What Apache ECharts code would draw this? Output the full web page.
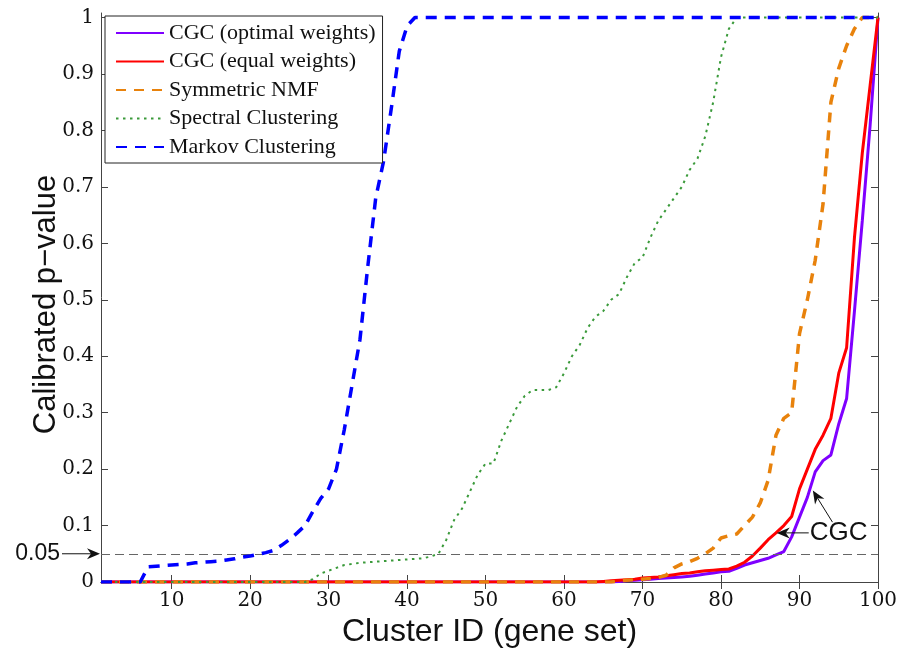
<!DOCTYPE html>
<html><head><meta charset="utf-8">
<script src="https://cdn.jsdelivr.net/npm/echarts@6/dist/echarts.min.js"></script>
<style>html,body{margin:0;padding:0;background:#fff}#c{width:905px;height:656px}</style>
</head><body><div id="c"></div>
<script>
const clusterIds = [1,2,3,4,5,6,7,8,9,10,11,12,13,14,15,16,17,18,19,20,21,22,23,24,25,26,27,28,29,30,31,32,33,34,35,36,37,38,39,40,41,42,43,44,45,46,47,48,49,50,51,52,53,54,55,56,57,58,59,60,61,62,63,64,65,66,67,68,69,70,71,72,73,74,75,76,77,78,79,80,81,82,83,84,85,86,87,88,89,90,91,92,93,94,95,96,97,98,99,100];

const cgcOptimal = [0,0,0,0,0,0,0,0,0,0, 0,0,0,0,0,0,0,0,0,0, 0,0,0,0,0,0,0,0,0,0, 0,0,0,0,0,0,0,0,0,0, 0,0,0,0,0,0,0,0,0,0, 0,0,0,0,0,0,0,0,0,0, 0,0,0,0,0,0,0.001,0.002,0.003,0.004,
  0.005,0.006,0.007,0.008,0.009,0.010,0.012,0.014,0.016,0.018,
  0.019,0.024,0.030,0.034,0.038,0.042,0.048,0.054,0.080,0.115,
  0.150,0.195,0.215,0.225,0.280,0.325,0.480,0.640,0.810,1.000];

const cgcEqual = [0,0,0,0,0,0,0,0,0,0, 0,0,0,0,0,0,0,0,0,0, 0,0,0,0,0,0,0,0,0,0, 0,0,0,0,0,0,0,0,0,0, 0,0,0,0,0,0,0,0,0,0, 0,0,0,0,0,0,0,0,0,0, 0,0,0,0,0.001,0.002,0.003,0.004,0.005,0.007,
  0.008,0.009,0.011,0.013,0.015,0.016,0.018,0.020,0.021,0.022,
  0.023,0.028,0.035,0.046,0.060,0.075,0.087,0.100,0.116,0.165,
  0.200,0.235,0.260,0.290,0.370,0.415,0.610,0.760,0.880,1.000];

const symmetricNMF = [0,0,0,0,0,0,0,0,0,0, 0,0,0,0,0,0,0,0,0,0, 0,0,0,0,0,0,0,0,0,0, 0,0,0,0,0,0,0,0,0,0, 0,0,0,0,0,0,0,0,0,0, 0,0,0,0,0,0,0,0,0,0, 0,0,0,0,0,0,0.002,0.003,0.004,0.005,
  0.006,0.008,0.012,0.025,0.032,0.036,0.042,0.050,0.060,0.078,
  0.082,0.085,0.100,0.115,0.140,0.180,0.260,0.290,0.300,0.440,
  0.500,0.570,0.670,0.850,0.910,0.950,0.980,1,1,1];

const spectral = [0,0,0,0,0,0,0,0,0,0, 0,0,0,0,0,0,0,0,0,0, 0,0,0,0,0,0,0,0.005,0.015,0.020,
  0.025,0.030,0.032,0.034,0.035,0.036,0.037,0.038,0.039,0.040,
  0.041,0.042,0.045,0.050,0.075,0.110,0.130,0.160,0.190,0.210,
  0.210,0.250,0.280,0.310,0.330,0.340,0.340,0.340,0.345,0.370,
  0.400,0.420,0.450,0.470,0.480,0.500,0.510,0.540,0.565,0.575,
  0.610,0.640,0.660,0.680,0.700,0.730,0.750,0.790,0.850,0.930,
  0.980,1,1,1,1,1,1,1,1,1, 1,1,1,1,1,1,1,1,1,1];

const markov = [0,0,0,0,0,0,0.027,0.028,0.029,0.030,
  0.031,0.032,0.034,0.035,0.036,0.037,0.039,0.041,0.044,0.046,
  0.049,0.052,0.056,0.065,0.075,0.087,0.100,0.125,0.148,0.165,
  0.200,0.270,0.350,0.430,0.560,0.680,0.745,0.840,0.940,0.985,
  1,1,1,1,1,1,1,1,1,1, 1,1,1,1,1,1,1,1,1,1, 1,1,1,1,1,1,1,1,1,1,
  1,1,1,1,1,1,1,1,1,1, 1,1,1,1,1,1,1,1,1,1, 1,1,1,1,1,1,1,1,1,1];

const seriesNames = ['CGC (optimal weights)','CGC (equal weights)','Symmetric NMF','Spectral Clustering','Markov Clustering'];
const xTicks = [10,20,30,40,50,60,70,80,90,100];
const yTicks = [0,0.1,0.2,0.3,0.4,0.5,0.6,0.7,0.8,0.9,1];
const thresholdValue = 0.05;

const seriesData = [cgcOptimal, cgcEqual, symmetricNMF, spectral, markov];
const styles = [
  {color:'#7f00ff', width:3, type:'solid'},
  {color:'#ff0000', width:3, type:'solid'},
  {color:'#e8820c', width:3.5, type:[10,8]},
  {color:'#3a9a3a', width:2, type:[2.5,4.5]},
  {color:'#0000ff', width:3.5, type:[11,8]}
];

const chart = echarts.init(document.getElementById('c'), null, {renderer:'canvas'});
const axisCol = '#444';
const tickFont = {fontFamily:'DejaVu Serif', fontSize:20, color:'#111'};

const series = seriesData.map((arr, i) => ({
  name: seriesNames[i],
  type: 'line',
  symbol: 'none',
  legendIcon: 'none',
  data: arr.map((v, k) => [clusterIds[k], v]),
  lineStyle: styles[i],
  itemStyle: {color: styles[i].color},
  z: 3 + i,
  animation: false
}));
series[0].markLine = {
  silent: true, symbol: 'none', animation: false,
  label: {show: false},
  lineStyle: {color: '#666', width: 1, type: [9,5]},
  data: [{yAxis: thresholdValue}]
};

chart.setOption({
  animation: false,
  backgroundColor: '#fff',
  grid: {left: 101, right: 27, top: 13, bottom: 74, containLabel: false},
  legend: {
    orient: 'vertical', left: 105, top: 16,
    data: seriesNames,
    itemWidth: 48, itemHeight: 14, itemGap: 6.5,
    padding: [6, 7, 5, 10],
    borderColor: '#222', borderWidth: 1, backgroundColor: '#fff',
    itemStyle: {opacity: 0, borderWidth: 0},
    textStyle: {fontFamily: 'Liberation Serif', fontSize: 22, color: '#111', lineHeight: 22},
    z: 20
  },
  xAxis: [{
    type: 'value', min: 1, max: 100, position: 'bottom',
    name: 'Cluster ID (gene set)', nameLocation: 'middle', nameGap: 34, nameMoveOverlap: false,
    nameTextStyle: {fontFamily: 'Liberation Sans', fontSize: 32, color: '#111'},
    axisLine: {show: true, lineStyle: {color: axisCol, width: 1}},
    axisTick: {show: true, inside: true, length: 7, customValues: xTicks, lineStyle: {color: axisCol}},
    axisLabel: Object.assign({customValues: xTicks, margin: 9}, tickFont),
    splitLine: {show: false}
  }, {
    type: 'value', min: 1, max: 100, position: 'top',
    axisLine: {show: true, lineStyle: {color: axisCol, width: 1}},
    axisTick: {show: true, inside: true, length: 7, customValues: xTicks, lineStyle: {color: axisCol}},
    axisLabel: {show: false},
    splitLine: {show: false}
  }],
  yAxis: [{
    type: 'value', min: 0, max: 1.008, position: 'left',
    name: 'Calibrated p\u2212value', nameLocation: 'middle', nameGap: 39, nameMoveOverlap: false,
    nameTextStyle: {fontFamily: 'Liberation Sans', fontSize: 31, color: '#111', padding: [0, 0, 0, -14]},
    axisLine: {show: true, lineStyle: {color: axisCol, width: 1}},
    axisTick: {show: true, inside: true, length: 7, customValues: yTicks, lineStyle: {color: axisCol}},
    axisLabel: Object.assign({customValues: yTicks, margin: 7}, tickFont),
    splitLine: {show: false}
  }, {
    type: 'value', min: 0, max: 1.008, position: 'right',
    axisLine: {show: true, lineStyle: {color: axisCol, width: 1}},
    axisTick: {show: true, inside: true, length: 7, customValues: yTicks, lineStyle: {color: axisCol}},
    axisLabel: {show: false},
    splitLine: {show: false}
  }],
  series: series
});

// annotation anchors in data coordinates
const cgcLabelAt = [91.3, 0.087];
const arrowA = {from: [91.3, 0.087], to: [87.1, 0.087]};
const arrowB = {from: [94.2, 0.106], to: [91.7, 0.162]};

function arrowShape(x1, y1, x2, y2) {
  const dx = x2 - x1, dy = y2 - y1;
  const L = Math.hypot(dx, dy), ux = dx / L, uy = dy / L;
  const px = -uy, py = ux;
  const hl = 13, hw = 5.5, notch = 4;
  const bx = x2 - ux * hl, by = y2 - uy * hl;
  const nx = x2 - ux * (hl - notch), ny = y2 - uy * (hl - notch);
  return [
    {type: 'line', shape: {x1: x1, y1: y1, x2: nx, y2: ny}, style: {stroke: '#111', lineWidth: 1}, z: 30},
    {type: 'polygon', shape: {points: [[x2, y2], [bx + px * hw, by + py * hw], [nx, ny], [bx - px * hw, by - py * hw]]},
      style: {fill: '#111'}, z: 30}
  ];
}

const p0 = chart.convertToPixel({gridIndex: 0}, [1, thresholdValue]);
const pA1 = chart.convertToPixel({gridIndex: 0}, arrowA.from);
const pA2 = chart.convertToPixel({gridIndex: 0}, arrowA.to);
const pB1 = chart.convertToPixel({gridIndex: 0}, arrowB.from);
const pB2 = chart.convertToPixel({gridIndex: 0}, arrowB.to);
const pT = chart.convertToPixel({gridIndex: 0}, cgcLabelAt);

const graphics = []
  .concat(arrowShape(62, p0[1], p0[0] - 1, p0[1]))
  .concat(arrowShape(pA1[0] - 1, pA1[1], pA2[0], pA2[1]))
  .concat(arrowShape(pB1[0], pB1[1], pB2[0], pB2[1]))
  .concat([
    {type: 'text', x: 60, y: p0[1], z: 30,
      style: {text: '0.05', font: '23px "Liberation Sans"', fill: '#111', align: 'right', verticalAlign: 'middle'}},
    {type: 'text', x: pT[0], y: pT[1], z: 30,
      style: {text: 'CGC', font: '26px "Liberation Sans"', fill: '#111', align: 'left', verticalAlign: 'middle'}}
  ]);
chart.setOption({graphic: graphics});
</script>
</body></html>
